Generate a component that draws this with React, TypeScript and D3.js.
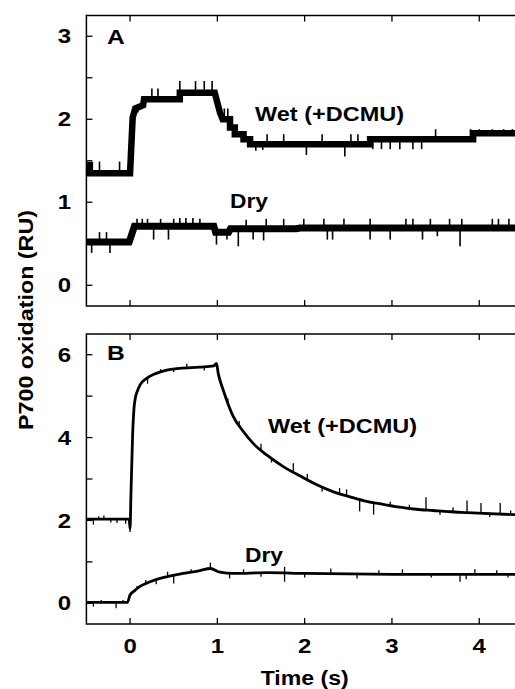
import React from "react";
import * as d3 from "d3";

// ---- data ----
type P = [number, number];

// Panel A: Wet (+DCMU) trace (time s, RU), quantized steps
const wetA: P[] = [
  [-0.5, 1.45], [-0.46, 1.45], [-0.46, 1.35], [0.0, 1.35], [0.03, 2.02], [0.06, 2.13],
  [0.15, 2.17], [0.16, 2.24], [0.57, 2.24], [0.57, 2.32], [0.97, 2.32], [1.0, 2.2],
  [1.03, 2.08], [1.06, 2.0], [1.145, 2.0], [1.145, 1.9], [1.2, 1.9], [1.2, 1.82],
  [1.3, 1.82], [1.3, 1.76], [1.375, 1.76], [1.375, 1.7], [2.75, 1.7], [2.75, 1.76],
  [3.93, 1.76], [3.93, 1.83], [4.5, 1.83],
];
const wetASpikes: P[] = [
  [-0.35, 1.49], [-0.12, 1.49], [0.09, 2.08], [0.25, 2.37], [0.32, 2.37], [0.57, 2.46],
  [0.75, 2.46], [0.85, 2.46], [0.94, 2.46], [1.08, 2.13], [1.12, 2.13], [1.44, 1.62],
  [1.52, 1.63], [1.57, 1.82], [1.76, 1.82], [2.02, 1.57], [2.2, 1.82], [2.46, 1.55],
  [2.53, 1.82], [2.61, 1.82], [2.78, 1.64], [2.88, 1.64], [2.98, 1.64], [3.09, 1.64],
  [3.24, 1.64], [3.34, 1.64], [3.5, 1.88], [3.9, 1.88], [4.0, 1.88], [4.15, 1.88],
  [4.28, 1.88], [4.38, 1.88],
];

// Panel A: Dry trace
const dryA: P[] = [
  [-0.5, 0.52], [-0.01, 0.52], [0.05, 0.71], [0.96, 0.71], [0.98, 0.64], [1.13, 0.64],
  [1.15, 0.68], [1.9, 0.68], [1.95, 0.69], [4.5, 0.69],
];
const dryASpikes: P[] = [
  [-0.44, 0.39], [-0.35, 0.64], [-0.27, 0.64], [-0.23, 0.39], [0.08, 0.8], [0.14, 0.8],
  [0.2, 0.8], [0.27, 0.55], [0.35, 0.8], [0.44, 0.55], [0.5, 0.8], [0.57, 0.81],
  [0.64, 0.81], [0.72, 0.81], [0.8, 0.8], [0.99, 0.49], [1.11, 0.55], [1.24, 0.47],
  [1.33, 0.79], [1.41, 0.55], [1.53, 0.54], [1.56, 0.8], [1.76, 0.8], [1.99, 0.8],
  [2.22, 0.8], [2.26, 0.55], [2.32, 0.55], [2.45, 0.8], [2.75, 0.55], [2.75, 0.8],
  [2.98, 0.55], [3.16, 0.8], [3.24, 0.8], [3.35, 0.55], [3.44, 0.8], [3.52, 0.59],
  [3.66, 0.8], [3.78, 0.47], [3.8, 0.8], [4.15, 0.8], [4.22, 0.8], [4.34, 0.8],
];

// Panel B: Wet (+DCMU)
const wetB: P[] = [
  [-0.5, 2.03], [-0.01, 2.03], [0.0, 1.8], [0.01, 2.6], [0.03, 4.1], [0.045, 4.7],
  [0.06, 4.95], [0.08, 5.1], [0.115, 5.27], [0.19, 5.43], [0.3, 5.55], [0.42, 5.63],
  [0.57, 5.67], [0.8, 5.7], [0.96, 5.73], [0.99, 5.79], [1.01, 5.55], [1.07, 5.13],
  [1.13, 4.77], [1.18, 4.52], [1.3, 4.14], [1.41, 3.86], [1.565, 3.58], [1.755, 3.3],
  [1.95, 3.07], [2.14, 2.86], [2.33, 2.69], [2.52, 2.57], [2.71, 2.46], [2.9, 2.39],
  [3.09, 2.32], [3.28, 2.27], [3.47, 2.24], [3.67, 2.21], [3.86, 2.19], [4.05, 2.17],
  [4.5, 2.13],
];
const wetBSpikes: P[] = [
  [-0.42, 1.9], [-0.36, 2.1], [-0.3, 2.12], [-0.22, 1.95], [-0.15, 1.94], [-0.05, 1.92],
  [0.0, 1.72], [0.2, 5.3], [0.35, 5.65], [0.5, 5.58], [0.65, 5.78], [0.85, 5.62],
  [1.12, 4.95], [1.25, 4.4], [1.5, 3.85], [1.62, 3.4], [1.87, 3.38], [2.03, 3.12],
  [2.2, 2.7], [2.4, 2.78], [2.48, 2.75], [2.63, 2.22], [2.79, 2.14], [2.98, 2.45],
  [3.2, 2.38], [3.39, 2.56], [3.55, 2.14], [3.7, 2.32], [3.86, 2.48], [4.02, 2.42],
  [4.12, 2.08], [4.24, 2.42], [4.36, 2.24],
];

// Panel B: Dry
const dryB: P[] = [
  [-0.5, 0.02], [-0.03, 0.02], [0.0, 0.2], [0.05, 0.3], [0.11, 0.4], [0.23, 0.52],
  [0.42, 0.64], [0.61, 0.72], [0.8, 0.79], [0.92, 0.84], [1.03, 0.75], [1.18, 0.72],
  [1.57, 0.74], [2.0, 0.72], [3.0, 0.7], [4.5, 0.7],
];
const dryBSpikes: P[] = [
  [-0.42, -0.08], [-0.33, 0.08], [-0.16, -0.12], [-0.08, 0.08], [0.08, 0.42], [0.18, 0.56],
  [0.3, 0.46], [0.43, 0.76], [0.5, 0.48], [0.7, 0.82], [0.92, 0.98], [1.14, 0.6],
  [1.3, 0.82], [1.5, 0.64], [1.77, 0.52], [1.77, 0.88], [2.0, 0.62], [2.3, 0.84],
  [2.6, 0.6], [2.85, 0.8], [3.12, 0.82], [3.45, 0.62], [3.78, 0.52], [3.85, 0.58],
  [3.95, 0.82], [4.2, 0.8], [4.33, 0.62],
];

const xTicks = [0, 1, 2, 3, 4];
const yTicksA = [0, 0.5, 1, 1.5, 2, 2.5, 3];
const yLabelsA = [0, 1, 2, 3];
const yTicksB = [0, 1, 2, 3, 4, 5, 6];
const yLabelsB = [0, 2, 4, 6];

const FONT = "'Liberation Sans', Arial, Helvetica, sans-serif";

function interp(data: P[], t: number): number {
  for (let i = 0; i < data.length - 1; i++) {
    const [t0, v0] = data[i];
    const [t1, v1] = data[i + 1];
    if (t >= t0 && t <= t1) {
      if (t1 === t0) return v1;
      return v0 + ((v1 - v0) * (t - t0)) / (t1 - t0);
    }
  }
  return data[data.length - 1][1];
}

function Label(props: { x: number; y: number; size: number; anchor?: string; sx?: number; children: React.ReactNode }) {
  const { x, y, size, anchor = "start", sx = 1.2, children } = props;
  return (
    <text
      transform={`translate(${x},${y}) scale(${sx},1)`}
      textAnchor={anchor as any}
      fontFamily={FONT}
      fontWeight="bold"
      fontSize={size}
    >
      {children}
    </text>
  );
}

export default function App() {
  const W = 515;
  const H = 689;
  const x = d3.scaleLinear().domain([-0.5, 4.5]).range([86.4, 522.9]);
  const yA = d3.scaleLinear().domain([-0.25, 3.25]).range([306, 15.5]);
  const yB = d3.scaleLinear().domain([-0.5, 6.5]).range([624, 334]);

  const lineA = d3.line<P>().x((d) => x(d[0])).y((d) => yA(d[1]));
  const lineB = d3
    .line<P>()
    .x((d) => x(d[0]))
    .y((d) => yB(d[1]))
    .curve(d3.curveMonotoneX);

  const panel = (
    y: d3.ScaleLinear<number, number>,
    ticks: number[],
    labels: number[],
    key: string
  ) => {
    const [b, t] = y.range();
    return (
      <g key={key}>
        <rect
          x={x(-0.5)}
          y={t}
          width={x(4.5) - x(-0.5)}
          height={b - t}
          fill="none"
          stroke="#000"
          strokeWidth={1.5}
        />
        {ticks.map((v) => (
          <line key={"yt" + v} x1={x(-0.5)} x2={x(-0.5) + 6} y1={y(v)} y2={y(v)} stroke="#000" strokeWidth={1.3} />
        ))}
        {labels.map((v) => (
          <Label key={"yl" + v} x={71} y={y(v) + 7.2} size={20} anchor="end">
            {v}
          </Label>
        ))}
        {xTicks.map((v) => (
          <g key={"xt" + v}>
            <line x1={x(v)} x2={x(v)} y1={b} y2={b - 6} stroke="#000" strokeWidth={1.3} />
            <line x1={x(v)} x2={x(v)} y1={t} y2={t + 6} stroke="#000" strokeWidth={1.3} />
          </g>
        ))}
      </g>
    );
  };

  const spikes = (
    data: P[],
    sp: P[],
    y: d3.ScaleLinear<number, number>,
    sw: number,
    key: string
  ) => (
    <g key={key}>
      {sp.map((s, i) => (
        <line
          key={i}
          x1={x(s[0])}
          x2={x(s[0])}
          y1={y(interp(data, s[0]))}
          y2={y(s[1])}
          stroke="#000"
          strokeWidth={sw}
        />
      ))}
    </g>
  );

  return (
    <svg
      width={W}
      height={H}
      style={{ position: "absolute", left: 0, top: 0, background: "#fff" }}
    >
      <rect x={0} y={0} width={W} height={H} fill="#fff" />
      {panel(yA, yTicksA, yLabelsA, "pa")}
      {panel(yB, yTicksB, yLabelsB, "pb")}

      {/* Panel A traces */}
      <path d={lineA(wetA) || ""} fill="none" stroke="#000" strokeWidth={6.5} strokeLinejoin="miter" />
      {spikes(wetA, wetASpikes, yA, 1.6, "swa")}
      <path d={lineA(dryA) || ""} fill="none" stroke="#000" strokeWidth={7} strokeLinejoin="miter" />
      {spikes(dryA, dryASpikes, yA, 1.6, "sda")}

      {/* Panel B traces */}
      <path d={lineB(wetB) || ""} fill="none" stroke="#000" strokeWidth={2.8} />
      {spikes(wetB, wetBSpikes, yB, 1.3, "swb")}
      <path d={lineB(dryB) || ""} fill="none" stroke="#000" strokeWidth={2.8} />
      {spikes(dryB, dryBSpikes, yB, 1.3, "sdb")}

      {/* Panel letters */}
      <Label x={107} y={43.5} size={20.5}>A</Label>
      <Label x={107} y={360} size={20.5}>B</Label>

      {/* Series labels */}
      <text x={255} y={121} fontFamily={FONT} fontWeight="bold" fontSize={21} textLength={149} lengthAdjust="spacingAndGlyphs">Wet (+DCMU)</text>
      <text x={230} y={208} fontFamily={FONT} fontWeight="bold" fontSize={21} textLength={38} lengthAdjust="spacingAndGlyphs">Dry</text>
      <text x={268} y={433} fontFamily={FONT} fontWeight="bold" fontSize={21} textLength={149} lengthAdjust="spacingAndGlyphs">Wet (+DCMU)</text>
      <text x={245} y={562} fontFamily={FONT} fontWeight="bold" fontSize={21} textLength={38} lengthAdjust="spacingAndGlyphs">Dry</text>

      {/* X tick labels */}
      {xTicks.map((v) => (
        <Label key={"xl" + v} x={x(v)} y={652.5} size={20} anchor="middle">
          {v}
        </Label>
      ))}

      {/* Axis titles */}
      <text x={x(2)} y={685} textAnchor="middle" fontFamily={FONT} fontWeight="bold" fontSize={21} textLength={88} lengthAdjust="spacingAndGlyphs">
        Time (s)
      </text>
      <text
        transform="translate(33,320) rotate(-90)"
        textAnchor="middle"
        fontFamily={FONT}
        fontWeight="bold"
        fontSize={21}
        textLength={220}
        lengthAdjust="spacingAndGlyphs"
      >
        P700 oxidation (RU)
      </text>
    </svg>
  );
}
